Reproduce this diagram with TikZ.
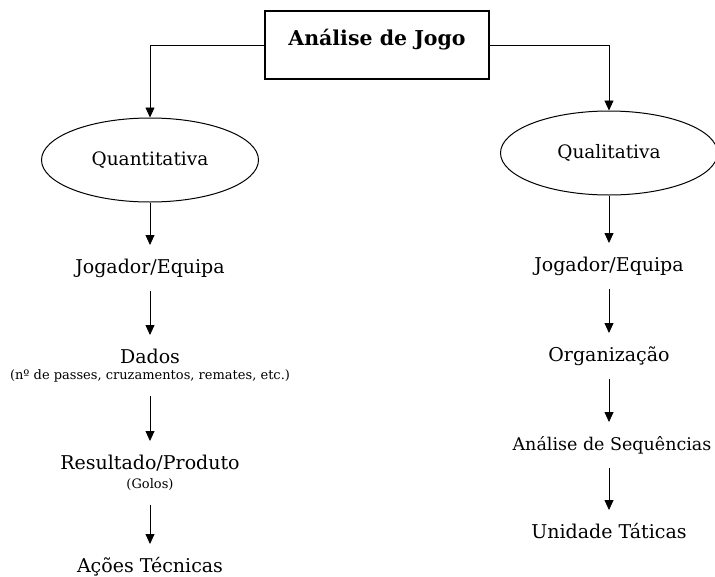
\documentclass[tikz,border=0pt]{standalone}
\usepackage{fontspec}
\setmainfont{DejaVu Serif}
\usetikzlibrary{arrows.meta,shapes.geometric}
\begin{document}
\begin{tikzpicture}[x=1pt,y=-1pt,
  arr/.style={draw, line width=0.8pt, -{Triangle[width=9pt,length=10pt]}},
  lbl/.style={font=\fontsize{19}{22}\selectfont, inner sep=0pt, text height=15pt, text depth=5pt, outer ysep=13pt, anchor=base},
  subl/.style={font=\fontsize{13}{15}\selectfont, inner sep=0pt, text height=10pt, text depth=3.5pt, outer ysep=13pt, anchor=base},
  oval/.style={draw, ellipse, line width=1pt, minimum width=217pt, minimum height=84pt, inner sep=0pt, font=\fontsize{18.5}{22}\selectfont},
  titlebox/.style={draw, rectangle, line width=1.2pt, minimum width=224pt, minimum height=68pt, inner sep=0pt, text height=10pt, text depth=10pt, font=\bfseries\fontsize{20.5}{24}\selectfont}]
\path[use as bounding box] (0,0) rectangle (715,576);
\clip (0,0) rectangle (715,576);
\node[titlebox] (t) at (377,45) {Análise de Jogo};
\node[oval] (qn) at (150,160) {Quantitativa};
\node[oval] (ql) at (609,153) {Qualitativa};
% left column
\node[lbl] (jqL) at (150,273) {Jogador/Equipa};
\node[lbl] (daL) at (150,363) {Dados};
\node[subl] (dsL) at (150,379) {(nº de passes, cruzamentos, remates, etc.)};
\node[lbl] (reL) at (150,469) {Resultado/Produto};
\node[subl] (goL) at (150,488) {(Golos)};
\node[lbl] (acL) at (150,572) {Ações Técnicas};
% right column
\node[lbl] (jqR) at (609,271) {Jogador/Equipa};
\node[lbl] (orR) at (609,361) {Organização};
\node[lbl, font=\fontsize{17.5}{21}\selectfont] (asR) at (612,450) {Análise de Sequências};
\node[lbl] (unR) at (609,538) {Unidade Táticas};
% connectors
\draw[arr] (t.west) -| (qn.north);
\draw[arr] (t.east) -| (ql.north);
\draw[arr] (qn.south) -- (jqL.north);
\draw[arr] (jqL.south) -- (daL.north);
\draw[arr] (dsL.south) -- (reL.north);
\draw[arr] (goL.south) -- (acL.north);
\draw[arr] (ql.south) -- (jqR.north);
\draw[arr] (jqR.south) -- (orR.north);
\draw[arr] (orR.south) -- (orR.south |- asR.north);
\draw[arr] (unR.north |- asR.south) -- (unR.north);
\end{tikzpicture}
\end{document}
